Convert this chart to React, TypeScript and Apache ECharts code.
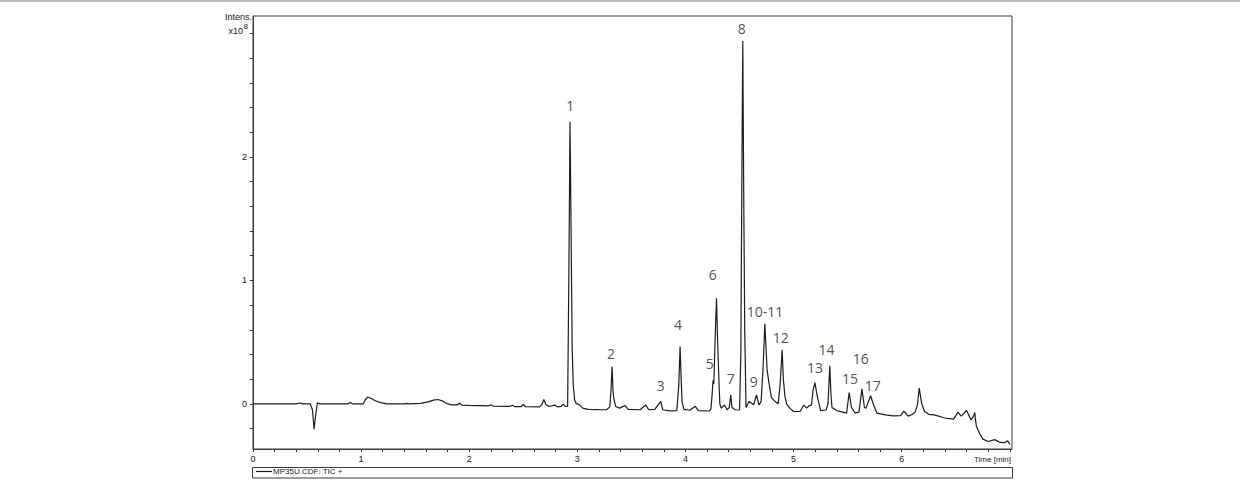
import React, { useEffect, useRef } from "react";
import * as echarts from "echarts";

// Retention time (min) and TIC intensity (x10^8)
const times = [
  0.0, 0.4, 0.43, 0.46, 0.53, 0.55, 0.565, 0.58, 0.595, 0.62, 0.88, 0.9, 0.92, 1.02, 1.04, 1.06, 1.09, 1.13, 1.18, 1.24,
  1.4, 1.42, 1.44, 1.55, 1.62, 1.67, 1.71, 1.75, 1.79, 1.84, 1.89, 1.91, 1.93, 2.0, 2.18, 2.2, 2.22, 2.38, 2.4, 2.42,
  2.48, 2.5, 2.52, 2.65, 2.67, 2.69, 2.71, 2.74, 2.79, 2.82, 2.85, 2.87, 2.89, 2.91, 2.922, 2.932, 2.942, 2.952, 2.962, 2.975,
  2.99, 3.02, 3.05, 3.1, 3.2, 3.27, 3.3, 3.312, 3.321, 3.33, 3.337, 3.355, 3.39, 3.44, 3.47, 3.58, 3.633, 3.66, 3.716, 3.771,
  3.79, 3.855, 3.92, 3.938, 3.95, 3.958, 3.968, 3.985, 4.04, 4.09, 4.12, 4.22, 4.235, 4.245, 4.255, 4.262, 4.275, 4.287, 4.296, 4.31,
  4.318, 4.33, 4.36, 4.385, 4.405, 4.419, 4.43, 4.44, 4.46, 4.5, 4.512, 4.522, 4.53, 4.538, 4.548, 4.56, 4.573, 4.59, 4.63, 4.657,
  4.68, 4.7, 4.718, 4.734, 4.755, 4.77, 4.795, 4.826, 4.857, 4.875, 4.894, 4.905, 4.92, 4.935, 4.965, 5.0, 5.06, 5.095, 5.12, 5.144,
  5.165, 5.18, 5.197, 5.215, 5.227, 5.25, 5.3, 5.318, 5.335, 5.345, 5.355, 5.4, 5.49, 5.514, 5.535, 5.57, 5.605, 5.632, 5.655, 5.67,
  5.712, 5.74, 5.77, 5.85, 5.92, 5.99, 6.02, 6.06, 6.1, 6.125, 6.145, 6.162, 6.185, 6.21, 6.25, 6.3, 6.4, 6.48, 6.52, 6.55,
  6.6, 6.64, 6.665, 6.675, 6.69, 6.72, 6.75, 6.8, 6.86, 6.91, 6.95, 6.98, 7.0,
];
const intensity = [
  0.0, 0.0, 0.007, 0.0, 0.0, -0.05, -0.205, -0.09, 0.008, 0.0, 0.0, 0.01, 0.0, 0.0, 0.035, 0.055, 0.045, 0.025, 0.01, 0.0,
  0.0, 0.004, 0.0, 0.004, 0.016, 0.03, 0.035, 0.024, 0.002, -0.008, -0.008, 0.006, -0.01, -0.013, -0.016, -0.008, -0.018, -0.02, -0.012, -0.022,
  -0.022, -0.006, -0.022, -0.025, -0.01, 0.035, -0.008, -0.022, -0.01, -0.025, -0.02, -0.002, -0.022, -0.018, 1.1, 2.286, 1.4, 0.45, 0.15, 0.03,
  0.002, -0.008, -0.035, -0.045, -0.047, -0.048, -0.025, 0.12, 0.302, 0.1, 0.045, -0.022, -0.035, -0.013, -0.045, -0.048, -0.01, -0.048, -0.045, 0.02,
  -0.048, -0.057, -0.055, 0.15, 0.464, 0.25, 0.02, -0.045, -0.052, -0.02, -0.055, -0.058, -0.045, 0.06, 0.19, 0.16, 0.55, 0.856, 0.545, 0.17,
  0.0, -0.035, -0.01, -0.048, -0.03, 0.073, -0.03, -0.035, -0.048, -0.05, 0.4, 1.9, 2.94, 1.8, 0.6, -0.03, -0.005, 0.02, -0.008, 0.073,
  -0.01, 0.02, 0.3, 0.648, 0.275, 0.18, 0.05, 0.02, 0.0, 0.15, 0.437, 0.2, 0.06, 0.0, -0.035, -0.062, -0.062, -0.01, -0.035, -0.016,
  -0.01, 0.11, 0.172, 0.08, 0.03, -0.055, -0.05, 0.0, 0.308, 0.08, -0.03, -0.055, -0.075, 0.092, -0.03, -0.075, -0.065, 0.121, -0.03, -0.035,
  0.065, -0.01, -0.075, -0.09, -0.097, -0.095, -0.06, -0.1, -0.085, -0.065, -0.01, 0.127, 0.0, -0.06, -0.085, -0.09, -0.115, -0.124, -0.067, -0.1,
  -0.054, -0.13, -0.1, -0.07, -0.18, -0.24, -0.286, -0.305, -0.29, -0.313, -0.315, -0.3, -0.33,
];

// Peak annotations: text and anchor (time, intensity)
const peakLabels = ["1", "2", "3", "4", "5", "6", "7", "8", "9", "10-11", "12", "13", "14", "15", "16", "17"];
const peakLabelTimes = [2.935, 3.311, 3.771, 3.931, 4.224, 4.253, 4.419, 4.521, 4.632, 4.735, 4.882, 5.197, 5.305, 5.521, 5.622, 5.731];
const peakLabelLevels = [2.42, 0.405, 0.146, 0.64, 0.324, 1.045, 0.202, 3.044, 0.178, 0.745, 0.535, 0.291, 0.437, 0.202, 0.364, 0.146];

// Axis ticks and labels
const xTickValues = [
  0, 0.2, 0.4, 0.6, 0.8, 1, 1.2, 1.4, 1.6, 1.8, 2, 2.2, 2.4, 2.6, 2.8, 3, 3.2, 3.4, 3.6, 3.8,
  4, 4.2, 4.4, 4.6, 4.8, 5, 5.2, 5.4, 5.6, 5.8, 6, 6.2, 6.4, 6.6, 6.8, 7,
];
const xLabelValues = [0, 1, 2, 3, 4, 5, 6];
const yTickValues = [-0.2, 0, 0.2, 0.4, 0.6, 0.8, 1, 1.2, 1.4, 1.6, 1.8, 2, 2.2, 2.4, 2.6, 2.8, 3];
const yLabelValues = [0, 1, 2];

const seriesName = "MP35U.CDF: TIC +";
const xAxisTitle = "Time [min]";
const yAxisTitle = "Intens.";
const yScaleBase = "x10";
const yScaleExp = "8";

const AXIS_COLOR = "#3a3a3a";
const TEXT_COLOR = "#222";
const TRACE_COLOR = "#1c1c1c";
const SANS = "Arial, 'Liberation Sans', sans-serif";

export default function App() {
  const ref = useRef<HTMLDivElement>(null);

  useEffect(() => {
    if (!ref.current) return;
    const chart = echarts.init(ref.current, null, { renderer: "svg" });

    const trace = times.map((t, i) => [t, intensity[i]]);
    const labelData = peakLabels.map((name, i) => ({ name, value: [peakLabelTimes[i], peakLabelLevels[i]] }));

    chart.setOption({
      animation: false,
      backgroundColor: "#ffffff",
      grid: {
        left: 253,
        top: 16,
        width: 759,
        height: 433,
        show: true,
        borderColor: AXIS_COLOR,
        borderWidth: 1,
        backgroundColor: "transparent",
      },
      xAxis: {
        type: "value",
        min: 0,
        max: 7.02,
        axisLine: { show: true, onZero: false, lineStyle: { color: AXIS_COLOR, width: 1 } },
        axisTick: { show: true, inside: false, length: 3, customValues: xTickValues, lineStyle: { color: AXIS_COLOR } },
        axisLabel: { show: true, customValues: xLabelValues, fontSize: 9, color: TEXT_COLOR, margin: 5, fontFamily: SANS },
        splitLine: { show: false },
      },
      yAxis: {
        type: "value",
        min: -0.366,
        max: 3.142,
        axisLine: { show: true, onZero: false, lineStyle: { color: AXIS_COLOR, width: 1 } },
        axisTick: { show: true, inside: false, length: 3, customValues: yTickValues, lineStyle: { color: AXIS_COLOR } },
        axisLabel: { show: true, customValues: yLabelValues, fontSize: 9, color: TEXT_COLOR, margin: 6, fontFamily: SANS },
        splitLine: { show: false },
      },
      legend: {
        show: true,
        data: [{ name: seriesName, icon: "rect", itemStyle: { color: TRACE_COLOR } }],
        left: 256,
        top: 467.5,
        padding: 0,
        itemWidth: 16,
        itemHeight: 1.2,
        selectedMode: false,
        textStyle: { fontSize: 8, color: TEXT_COLOR, fontFamily: SANS, padding: [0, 0, 0, -4] },
      },
      series: [
        {
          type: "line",
          name: seriesName,
          data: trace,
          symbol: "none",
          showSymbol: false,
          lineStyle: { color: TRACE_COLOR, width: 1.2 },
          itemStyle: { color: TRACE_COLOR },
          silent: true,
        },
        {
          type: "scatter",
          name: "peaks",
          data: labelData,
          symbolSize: 1,
          itemStyle: { color: "rgba(0,0,0,0)" },
          silent: true,
          label: {
            show: true,
            position: "inside",
            formatter: "{b}",
            fontSize: 14,
            color: TEXT_COLOR,
            textBorderWidth: 0,
            textBorderColor: "rgba(0,0,0,0)",
            fontFamily: "'Open Sans', 'Noto Sans', sans-serif",
          },
        },
      ],
      graphic: [
        { type: "line", shape: { x1: 0, y1: 1, x2: 1240, y2: 1 }, style: { stroke: "#b8b8b8", lineWidth: 2 } },
        {
          type: "text",
          x: 252,
          y: 17,
          style: { text: yAxisTitle, fontSize: 9, fill: TEXT_COLOR, fontFamily: SANS, align: "right", verticalAlign: "middle", textAlign: "right", textVerticalAlign: "middle" },
        },
        {
          type: "text",
          x: 243,
          y: 30.5,
          style: { text: yScaleBase, fontSize: 9, fill: TEXT_COLOR, fontFamily: SANS, align: "right", verticalAlign: "middle", textAlign: "right", textVerticalAlign: "middle" },
        },
        {
          type: "text",
          x: 243.5,
          y: 26.5,
          style: { text: yScaleExp, fontSize: 8, fill: TEXT_COLOR, fontFamily: SANS, align: "left", verticalAlign: "middle", textAlign: "left", textVerticalAlign: "middle" },
        },
        {
          type: "text",
          x: 1011,
          y: 459,
          style: { text: xAxisTitle, fontSize: 8, fill: TEXT_COLOR, fontFamily: SANS, align: "right", verticalAlign: "middle", textAlign: "right", textVerticalAlign: "middle" },
        },
        {
          type: "rect",
          shape: { x: 252.5, y: 467.5, width: 760, height: 10.5 },
          style: { fill: "none", stroke: AXIS_COLOR, lineWidth: 1 },
          z: -1,
        },
      ],
    });

    return () => chart.dispose();
  }, []);

  return (
    <div
      ref={ref}
      style={{ position: "fixed", left: 0, top: 0, width: 1240, height: 492, background: "#fff" }}
    />
  );
}
